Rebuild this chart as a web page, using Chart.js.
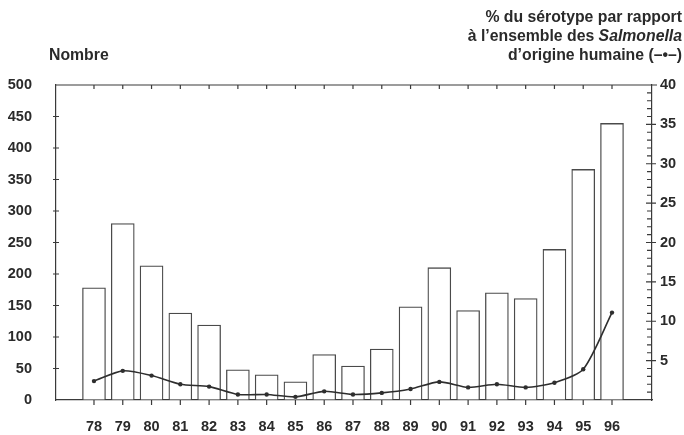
<!DOCTYPE html>
<html>
<head>
<meta charset="utf-8">
<script src="https://cdn.jsdelivr.net/npm/chart.js@4"></script>
<style>
  html, body { margin: 0; padding: 0; background: #fff; }
  canvas { display: block; }
</style>
</head>
<body>
<canvas id="serotype" width="684" height="435"></canvas>
<script>
// annees (19..)
const years = [78, 79, 80, 81, 82, 83, 84, 85, 86, 87, 88, 89, 90, 91, 92, 93, 94, 95, 96];
// nombre d'isolements (barres)
const counts = [178, 280, 213, 138, 119, 48, 40, 29, 72, 54, 81, 148, 210, 142, 170, 161, 239, 366, 439];
// % du serotype (courbe)
const percents = [2.4, 3.7, 3.1, 2.0, 1.7, 0.7, 0.7, 0.4, 1.1, 0.7, 0.9, 1.4, 2.3, 1.6, 2.0, 1.6, 2.2, 3.9, 11.1];
const leftTicks = [0, 50, 100, 150, 200, 250, 300, 350, 400, 450, 500];
const rightTicks = [5, 10, 15, 20, 25, 30, 35, 40];

const ink = '#3a3a3a';
const fontFamily = '"Liberation Sans", Arial, sans-serif';

const decor = {
    id: 'decor',
    afterDraw(chart) {
        const ctx = chart.ctx;
        const a = chart.chartArea;
        const x = chart.scales.x, y = chart.scales.y, y1 = chart.scales.y1;
        ctx.save();
        ctx.strokeStyle = ink;
        ctx.lineWidth = 1.2;
        ctx.beginPath();
        // ligne du haut
        ctx.moveTo(a.left, a.top);
        ctx.lineTo(a.right + 5, a.top);
        years.forEach((yr) => {
            const px = x.getPixelForValue(yr);
            ctx.moveTo(px, a.top);
            ctx.lineTo(px, a.top + 4);
            ctx.moveTo(px, a.bottom);
            ctx.lineTo(px, a.bottom + 5);
        });
        leftTicks.forEach((v) => {
            if (v === 0 || v === 500) return;
            const py = y.getPixelForValue(v);
            ctx.moveTo(a.left - 3, py);
            ctx.lineTo(a.left + 3, py);
        });
        for (let v = 1; v < 40; v++) {
            const py = y1.getPixelForValue(v);
            if (v % 5 === 0) {
                ctx.moveTo(a.right - 6, py);
                ctx.lineTo(a.right + 4, py);
            } else {
                ctx.moveTo(a.right - 5, py);
                ctx.lineTo(a.right, py);
            }
        }
        ctx.stroke();

        // titres
        ctx.fillStyle = '#2a2a2a';
        ctx.textBaseline = 'alphabetic';
        ctx.font = 'bold 15.8px ' + fontFamily;
        ctx.textAlign = 'left';
        ctx.fillText('Nombre', 49, 60);

        ctx.textAlign = 'right';
        const rx = 682;
        ctx.fillText('% du sérotype par rapport', rx, 22);
        ctx.font = 'bold italic 15.8px ' + fontFamily;
        const italicPart = 'Salmonella';
        const wItal = ctx.measureText(italicPart).width;
        ctx.fillText(italicPart, rx, 41);
        ctx.font = 'bold 15.8px ' + fontFamily;
        ctx.fillText('à l\u2019ensemble des ', rx - wItal, 41);
        ctx.fillText('d\u2019origine humaine (\u2013\u2022\u2013)', rx, 60);
        ctx.restore();
    }
};

const ctx = document.getElementById('serotype').getContext('2d');

const config = {
    data: {
        datasets: [
            {
                type: 'line',
                label: '%',
                data: years.map((yr, i) => ({x: yr, y: percents[i]})),
                yAxisID: 'y1',
                borderColor: '#2e2e2e',
                backgroundColor: '#2e2e2e',
                borderWidth: 1.6,
                pointRadius: 2.2,
                pointBorderWidth: 0,
                tension: 0.25,
                order: 1,
            },
            {
                type: 'bar',
                label: 'Nombre',
                data: years.map((yr, i) => ({x: yr, y: counts[i]})),
                yAxisID: 'y',
                backgroundColor: '#ffffff',
                borderColor: '#4a4a4a',
                borderWidth: 1.3,
                barThickness: 23,
                order: 2,
            },
        ],
    },
    options: {
        responsive: false,
        animation: false,
        layout: {
            padding: {top: 85, left: 0, right: 0, bottom: 0},
        },
        plugins: {
            legend: {display: false},
            tooltip: {enabled: false},
        },
        scales: {
            x: {
                type: 'linear',
                offset: false,
                min: 76.68,
                max: 97.39,
                afterBuildTicks: (scale) => {
                    scale.ticks = years.map((v) => ({value: v}));
                },
                afterFit: (scale) => { scale.height = 35; },
                grid: {display: true, drawOnChartArea: false, drawTicks: false, tickLength: 0, offset: false},
                border: {display: true, color: ink, width: 1.2},
                ticks: {
                    padding: 18,
                    color: '#2a2a2a',
                    font: {family: fontFamily, size: 14.5, weight: 'bold'},
                    callback: (v) => String(v),
                    maxRotation: 0,
                    autoSkip: false,
                },
            },
            y: {
                position: 'left',
                min: 0,
                max: 500,
                afterBuildTicks: (scale) => {
                    scale.ticks = leftTicks.map((v) => ({value: v}));
                },
                afterFit: (scale) => { scale.width = 56; },
                grid: {display: true, drawOnChartArea: false, drawTicks: false, tickLength: 0},
                border: {display: true, color: ink, width: 1.2},
                ticks: {
                    padding: 24,
                    color: '#2a2a2a',
                    font: {family: fontFamily, size: 14.5, weight: 'bold'},
                },
            },
            y1: {
                position: 'right',
                min: 0,
                max: 40,
                afterBuildTicks: (scale) => {
                    scale.ticks = rightTicks.map((v) => ({value: v}));
                },
                afterFit: (scale) => { scale.width = 32; },
                grid: {display: true, drawOnChartArea: false, drawTicks: false, tickLength: 0},
                border: {display: true, color: ink, width: 1.2},
                ticks: {
                    padding: 8,
                    color: '#2a2a2a',
                    font: {family: fontFamily, size: 14.5, weight: 'bold'},
                },
            },
        },
    },
    plugins: [decor],
};

new Chart(ctx, config);
</script>
</body>
</html>
